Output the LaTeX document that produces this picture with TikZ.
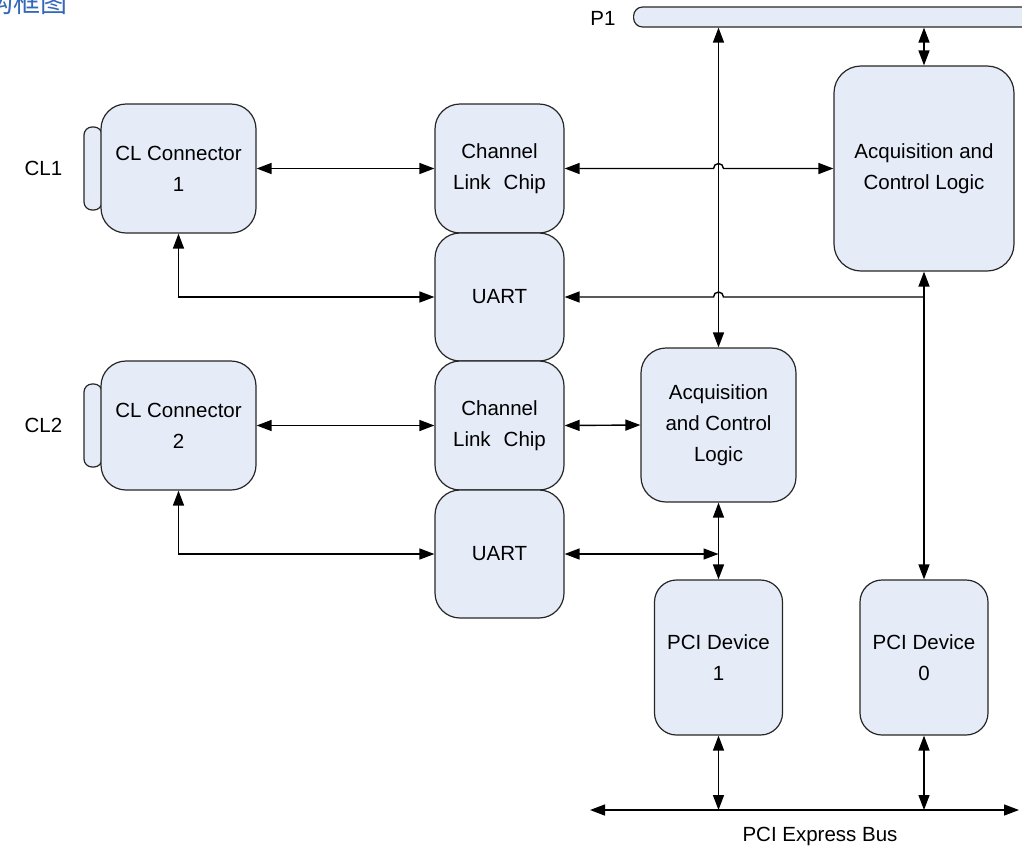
\documentclass[tikz,border=0pt]{standalone}
\usepackage{fontspec}
\setmainfont{Liberation Sans}
\newfontfamily\cjkfont{Noto Sans CJK SC}
\usetikzlibrary{arrows.meta}

\definecolor{boxfill}{RGB}{230,236,247}
\definecolor{titleblue}{RGB}{52,104,184}

\begin{document}
\begin{tikzpicture}[x=1pt,y=-1pt,
  blk/.style={draw=black!85, line width=1.2pt, fill=boxfill, rounded corners=25pt,
    align=center, inner sep=0pt, font=\fontsize{20.5}{31}\selectfont},
  tab/.style={draw=black!85, line width=1.2pt, fill=boxfill, rounded corners=8pt,
    minimum width=18pt, minimum height=83pt, inner sep=0pt},
  bar/.style={draw=black!85, line width=1.2pt, fill=boxfill, rounded corners=9pt,
    minimum height=20pt, inner sep=0pt},
  lbl/.style={font=\fontsize{20.5}{25}\selectfont, inner sep=0pt},
  tip/.tip={Triangle[length=15pt,width=11pt]},
  wire/.style={line width=1.4pt},
  both/.style={wire, tip-tip},
  toend/.style={wire, -tip},
]
\useasboundingbox (0,0) rectangle (1022,855);

% heading
\node[anchor=base east, inner sep=0pt, text=titleblue,
  font=\cjkfont\fontsize{27}{27}\selectfont] (title) at (68,12) {结构框图};

% bus P1
\node[bar, minimum width=420pt, anchor=west] (p1) at (633,17) {};
\node[lbl] (p1lbl) at (603,18) {P1};

% camera link connectors
\node[tab] (tab1) at (93,168.5) {};
\node[blk, minimum width=155pt, minimum height=129pt] (cl1) at (178.5,168.5) {CL Connector\\1};
\node[tab] (tab2) at (93,425.5) {};
\node[blk, minimum width=155pt, minimum height=129pt] (cl2) at (178.5,425.5) {CL Connector\\2};
\node[lbl] (cl1lbl) at (43.5,168) {CL1};
\node[lbl] (cl2lbl) at (43.5,425) {CL2};

% channel link chips and UARTs
\node[blk, minimum width=129pt, minimum height=129pt] (clc1) at (499.5,168.5) {Channel\\Link\hspace{13pt}Chip};
\node[blk, minimum width=129pt, minimum height=128pt] (uart1) at (499.5,297) {UART};
\node[blk, minimum width=129pt, minimum height=129pt] (clc2) at (499.5,425.5) {Channel\\Link\hspace{13pt}Chip};
\node[blk, minimum width=129pt, minimum height=128pt] (uart2) at (499.5,554) {UART};

% acquisition and control logic
\node[blk, minimum width=155pt, minimum height=154pt] (acq2) at (718.5,425) {Acquisition\\and Control\\Logic};
\node[blk, minimum width=180pt, minimum height=205pt, rounded corners=27pt] (acq1) at (924,168.5) {Acquisition and\\Control Logic};

% PCI devices
\node[blk, minimum width=128pt, minimum height=155pt, rounded corners=22pt] (pci1) at (718.5,657.5) {PCI Device\\1};
\node[blk, minimum width=128pt, minimum height=155pt, rounded corners=22pt] (pci0) at (924,657.5) {PCI Device\\0};

% PCI Express bus
\coordinate (busL) at (590,810);
\coordinate (busR) at (1019,810);
\draw[both] (busL) -- (busR);
\node[lbl] (buslbl) at (820,836) {PCI Express Bus};

% crossing points
\coordinate (hopA) at (acq2.north |- clc1.east);
\coordinate (hopB) at (acq2.north |- uart1.east);

% connections
\draw[both] (cl1.east) -- (clc1.west);
\draw[both] (cl2.east) -- (clc2.west);
\draw[both] (clc1.east) -- ([xshift=-5pt]hopA) arc[start angle=180, end angle=0, radius=5pt] -- (acq1.west);
\draw[both] (clc2.east) -- (acq2.west);
\draw[both] (cl1.south) |- (uart1.west);
\draw[both] (cl2.south) |- (uart2.west);
\draw[toend] (acq1.south |- uart1.east) -- ([xshift=5pt]hopB) arc[start angle=0, end angle=180, radius=5pt] -- (uart1.east);
\draw[both] (uart2.east) -- (uart2.east -| acq2.south);
\draw[both] (p1.south -| acq2.north) -- (acq2.north);
\draw[both] (p1.south -| acq1.north) -- (acq1.north);
\draw[both] (acq1.south) -- (pci0.north);
\draw[both] (acq2.south) -- (pci1.north);
\draw[both] (pci1.south) -- (pci1.south |- busL);
\draw[both] (pci0.south) -- (pci0.south |- busL);
\end{tikzpicture}
\end{document}
